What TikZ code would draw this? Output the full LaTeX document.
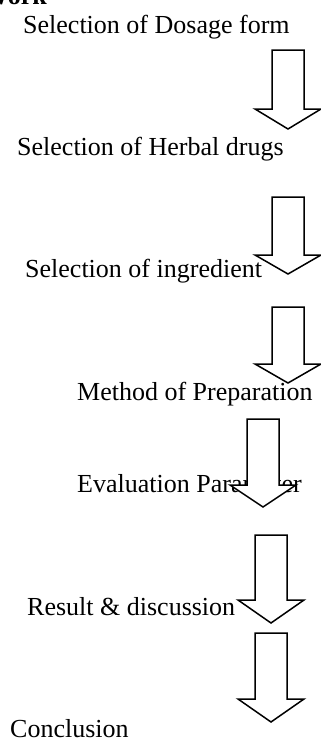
\documentclass[tikz,border=0pt]{standalone}
\usepackage{fontspec}
\setmainfont{Liberation Serif}
\usepackage{tikz}
\usetikzlibrary{positioning}

\tikzset{
  steptext/.style={anchor=base west, inner sep=0pt, font=\fontsize{26}{30}\selectfont},
  blockarrow/.style={draw, fill=white, line width=1.5pt, line join=miter}
}

\begin{document}
\begin{tikzpicture}[x=1pt, y=-1pt]
\useasboundingbox (0,0) rectangle (321,740);
\clip (0,0) rectangle (321,740);
\node[anchor=base east, inner sep=0pt, font=\fontsize{26}{30}\selectfont\bfseries] (title) at (47,4) {Work};
% steps
\node[steptext] (dosage) at (23,33) {Selection of Dosage form};
\node[steptext] (herbal) at (17,155) {Selection of Herbal drugs};
\node[steptext] (ingred) at (25,277) {Selection of ingredient};
\node[steptext] (method) at (77,400) {Method of Preparation};
\node[steptext] (eval) at (77,492) {Evaluation Parameter};
\node[steptext] (result) at (27,615) {Result \& discussion};
\node[steptext] (concl) at (10,737) {Conclusion};
% block arrows: centre x / top / wings / tip
\foreach \cx/\ytop/\ywing/\ytip in {288/50/109/129, 288/197/255/274, 288/307/364/383,
                                    263/419/485/507, 271/535/600/623, 271/633/699/722}
  \draw[blockarrow] (\cx-16,\ytop) -- (\cx+16,\ytop) -- (\cx+16,\ywing) -- (\cx+33,\ywing)
    -- (\cx,\ytip) -- (\cx-33,\ywing) -- (\cx-16,\ywing) -- cycle;
\end{tikzpicture}
\end{document}
